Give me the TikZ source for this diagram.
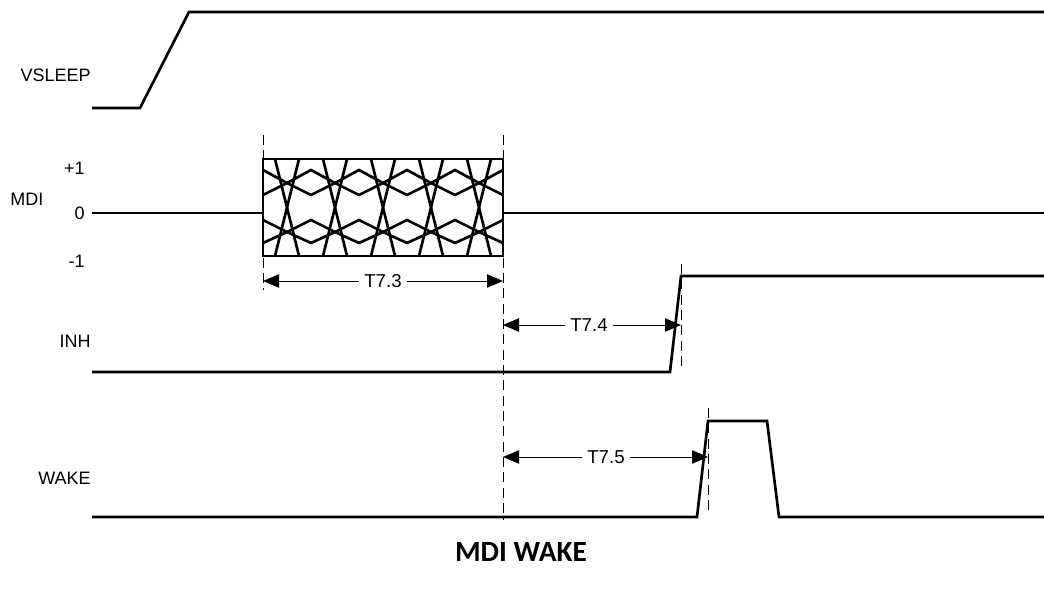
\documentclass[tikz,border=0pt]{standalone}
\usepackage{fontspec}
\setmainfont{Liberation Sans}
\newfontfamily\titlefont{Carlito}
\usetikzlibrary{arrows.meta}

\begin{document}
\begin{tikzpicture}[
  x=0.75pt,
  y=-0.75pt,
  line join=miter,
  sig/.style={line width=2pt},
  eye/.style={line width=2pt},
  guide/.style={line width=0.75pt, dash pattern=on 7.5pt off 4pt},
  dim/.style={-{Triangle[length=12pt, width=10pt]}, line width=0.75pt},
  lbl/.style={font=\fontsize{13.5}{16}\selectfont, inner sep=0pt},
  dimlbl/.style={font=\fontsize{14}{16}\selectfont, inner sep=4pt},
]

% page frame (1044 x 595 px)
\useasboundingbox (0,0) rectangle (1044,595);

% signal names
\node[lbl, anchor=east] (vsleep) at (91,75) {VSLEEP};
\node[lbl, anchor=west] (mdi) at (10,199) {MDI};
\node[lbl, anchor=east] (plusone) at (85,168) {+1};
\node[lbl, anchor=east] (zero) at (85,213) {0};
\node[lbl, anchor=east] (minusone) at (85,261) {-1};
\node[lbl, anchor=east] (inh) at (91,341) {INH};
\node[lbl, anchor=east] (wake) at (91,478) {WAKE};

% VSLEEP ramps up
\draw[sig] (92,108) -- (140,108) -- (189,12) -- (1044,12);

% MDI idle level around the burst
\draw[sig] (92,213) -- (263,213);
\draw[sig] (503,213) -- (1044,213);

% MDI burst: box, crossings and eyes
\draw[eye] (263,159) rectangle (503,256);
\foreach \c in {287,335,383,431,479} {
  \draw[eye] ({\c-12},159) -- ({\c+12},256);
  \draw[eye] ({\c+12},159) -- ({\c-12},256);
}
\foreach \ya/\yb in {170/183, 195/183, 220/232, 243/232} {
  \draw[eye] (263,\ya)
    \foreach \j [evaluate=\j as \yy using {\ya+(\yb-\ya)*mod(\j,2)}] in {1,...,10} {
      -- ({263+24*\j},\yy)
    };
}

% INH
\draw[sig] (92,372) -- (670,372) -- (681,276) -- (1044,276);

% WAKE pulse
\draw[sig] (92,517) -- (697,517) -- (708,421) -- (767,421) -- (779,517) -- (1044,517);

% timing guides
\draw[guide] (263,135) -- (263,290);
\draw[guide] (503,135) -- (503,520);
\draw[guide] (681,264) -- (681,370);
\draw[guide] (708,408) -- (708,514);

% T7.3
\coordinate (t73l) at (263,281);
\coordinate (t73r) at (503,281);
\node[dimlbl] (t73) at (383,281) {T7.3};
\draw[dim] (t73) -- (t73l);
\draw[dim] (t73) -- (t73r);

% T7.4
\coordinate (t74l) at (503,325);
\coordinate (t74r) at (681,325);
\node[dimlbl] (t74) at (589,325) {T7.4};
\draw[dim] (t74) -- (t74l);
\draw[dim] (t74) -- (t74r);

% T7.5
\coordinate (t75l) at (503,457);
\coordinate (t75r) at (708,457);
\node[dimlbl] (t75) at (606,457) {T7.5};
\draw[dim] (t75) -- (t75l);
\draw[dim] (t75) -- (t75r);

% caption
\node[font=\titlefont\bfseries\fontsize{22}{26}\selectfont] (title) at (521,552) {MDI WAKE};

\end{tikzpicture}
\end{document}
